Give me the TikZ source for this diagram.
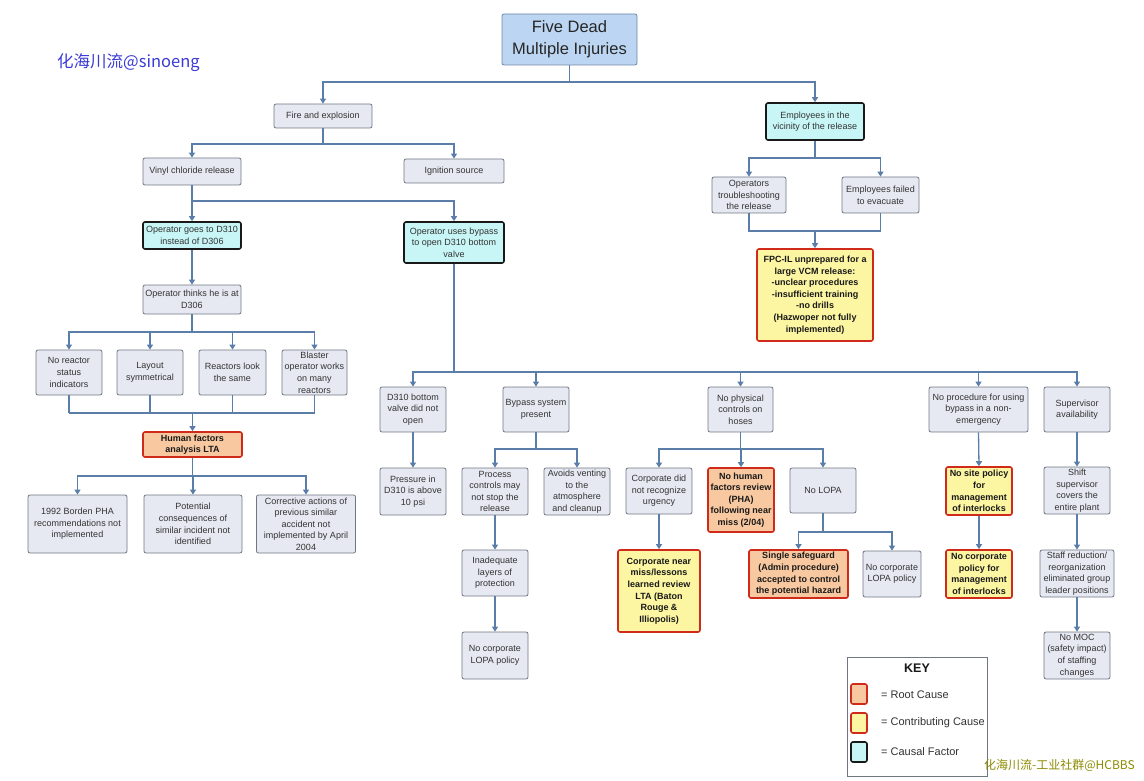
\documentclass[tikz,border=0pt]{standalone}
\usepackage{fontspec}
\setmainfont{Liberation Sans}
\newfontfamily\cjk{Noto Sans CJK SC}
\usetikzlibrary{arrows.meta}
\definecolor{procfill}{HTML}{E6E9F2}
\definecolor{procline}{HTML}{707682}
\definecolor{topfill}{HTML}{BCD5F2}
\definecolor{topline}{HTML}{6F88A8}
\definecolor{causalfill}{HTML}{C8F5F5}
\definecolor{rootfill}{HTML}{F8C8A0}
\definecolor{contribfill}{HTML}{FCF6A2}
\definecolor{redline}{HTML}{D02A1A}
\definecolor{conn}{HTML}{5B7EA8}
\definecolor{txt}{HTML}{333333}
\definecolor{wmblue}{HTML}{3A3AD6}
\definecolor{wmolive}{HTML}{8C8A00}
\begin{document}
\begin{tikzpicture}[x=1pt,y=-1pt,
  wh/.style 2 args={minimum width=#1pt, minimum height=#2pt},
  box/.style={draw=procline, fill=procfill, rounded corners=2pt, line width=0.8pt,
    align=center, inner sep=0.5pt, font=\fontsize{9}{11.6}\selectfont, text=txt},
  topbox/.style={box, draw=topline, fill=topfill, font=\fontsize{16.5}{22}\selectfont, text=black!85},
  causal/.style={box, draw=black!90, fill=causalfill, line width=1.6pt},
  root/.style={box, draw=redline, fill=rootfill, line width=1.6pt,
    font=\bfseries\fontsize{9}{11.6}\selectfont, text=black!90},
  contrib/.style={root, fill=contribfill},
  ln/.style={draw=conn, line width=1.3pt},
  arr/.style={ln, -{Triangle[length=5pt,width=6pt]}},
  keytxt/.style={anchor=west, font=\fontsize{11}{13}\selectfont, text=txt, inner sep=0pt}
]
\useasboundingbox (0,0) rectangle (1144,781);

% ---- nodes ----
\node[topbox, wh={135}{51}] (top) at (569.5,39.5) {Five Dead\\Multiple Injuries};
\node[box, wh={98}{24}] (fire) at (323,116) {Fire and explosion};
\node[causal, wh={98}{37}] (emp) at (815,121.5) {Employees in the\\vicinity of the release};
\node[box, wh={98}{27}] (vinyl) at (192,171.5) {Vinyl chloride release};
\node[box, wh={100}{24}] (ign) at (454,171) {Ignition source};
\node[causal, wh={98}{27}] (opgo) at (192,235.5) {Operator goes to D310\\instead of D306};
\node[causal, wh={100}{41}] (opbyp) at (454,242.5) {Operator uses bypass\\to open D310 bottom\\valve};
\node[box, wh={74}{36}] (optr) at (749,195) {Operators\\troubleshooting\\the release};
\node[box, wh={77}{36}] (empf) at (880.5,195) {Employees failed\\to evacuate};
\node[contrib, wh={116}{92}] (fpc) at (815,295) {FPC-IL unprepared for a\\large VCM release:\\-unclear procedures\\-insufficient training\\-no drills\\(Hazwoper not fully\\implemented)};
\node[box, wh={98}{29}] (opth) at (192,299.5) {Operator thinks he is at\\D306};
\node[box, wh={66}{45}] (nr) at (69,372.5) {No reactor\\status\\indicators};
\node[box, wh={66}{45}] (lay) at (150,372.5) {Layout\\symmetrical};
\node[box, wh={67}{45}] (rl) at (232.5,372.5) {Reactors look\\the same};
\node[box, wh={65}{45}] (bl) at (314.5,372.5) {Blaster\\operator works\\on many\\reactors};
\node[root, wh={99}{25}] (hf) at (192.5,444.5) {Human factors\\analysis LTA};
\node[box, wh={99}{58}] (b92) at (77.5,524) {1992 Borden PHA\\recommendations not\\implemented};
\node[box, wh={98}{58}] (pot) at (193,524) {Potential\\consequences of\\similar incident not\\identified};
\node[box, wh={99}{58}] (corr) at (306,524) {Corrective actions of\\previous similar\\accident not\\implemented by April\\2004};
\node[box, wh={66}{45}] (d310) at (413,409.5) {D310 bottom\\valve did not\\open};
\node[box, wh={66}{45}] (byp) at (536,409.5) {Bypass system\\present};
\node[box, wh={65}{45}] (nph) at (740.5,409.5) {No physical\\controls on\\hoses};
\node[box, wh={99}{45}] (nproc) at (978.5,409.5) {No procedure for using\\bypass in a non-\\emergency};
\node[box, wh={66}{45}] (sup) at (1077,409.5) {Supervisor\\availability};
\node[box, wh={66}{47}] (pres) at (413,491.5) {Pressure in\\D310 is above\\10 psi};
\node[box, wh={66}{47}] (pc) at (495,491.5) {Process\\controls may\\not stop the\\release};
\node[box, wh={66}{47}] (av) at (577,491.5) {Avoids venting\\to the\\atmosphere\\and cleanup};
\node[box, wh={66}{46}] (inad) at (495,573) {Inadequate\\layers of\\protection};
\node[box, wh={66}{47}] (nlopaA) at (495,655.5) {No corporate\\LOPA policy};
\node[box, wh={66}{46}] (cdn) at (659,491) {Corporate did\\not recognize\\urgency};
\node[root, wh={66}{64}] (nhf) at (741,500) {No human\\factors review\\(PHA)\\following near\\miss (2/04)};
\node[box, wh={66}{45}] (nlopa) at (823,490.5) {No LOPA};
\node[contrib, wh={82}{82}] (cnm) at (659,591) {Corporate near\\miss/lessons\\learned review\\LTA (Baton\\Rouge \&\\Illiopolis)};
\node[root, wh={99}{48}] (ss) at (798.5,574) {Single safeguard\\(Admin procedure)\\accepted to control\\the potential hazard};
\node[box, wh={58}{46}] (nlopaB) at (892,574) {No corporate\\LOPA policy};
\node[contrib, wh={66}{48}] (nsite) at (979,491) {No site policy\\for\\management\\of interlocks};
\node[contrib, wh={66}{48}] (ncorp) at (979,574) {No corporate\\policy for\\management\\of interlocks};
\node[box, wh={66}{47}] (shift) at (1077,490.5) {Shift\\supervisor\\covers the\\entire plant};
\node[box, wh={74}{47}] (staff) at (1077,573.5) {Staff reduction/\\reorganization\\eliminated group\\leader positions};
\node[box, wh={66}{47}] (nmoc) at (1077,655.5) {No MOC\\(safety impact)\\of staffing\\changes};

% ---- bus coordinates ----
\coordinate (yA) at (0,82);
\coordinate (yB) at (0,144);
\coordinate (yC) at (0,201);
\coordinate (yD) at (0,158);
\coordinate (yE) at (0,231);
\coordinate (yF) at (0,332);
\coordinate (yG) at (0,413);
\coordinate (yH) at (0,476);
\coordinate (yI) at (0,372);
\coordinate (yJ) at (0,449);
\coordinate (yK) at (0,532);

% ---- connectors ----
\foreach \c in {fire,emp}{\draw[arr] (top.south) -- (top.south |- yA) -| (\c.north);}
\foreach \c in {vinyl,ign}{\draw[arr] (fire.south) -- (fire.south |- yB) -| (\c.north);}
\foreach \c in {opgo,opbyp}{\draw[arr] (vinyl.south) -- (vinyl.south |- yC) -| (\c.north);}
\foreach \c in {optr,empf}{\draw[arr] (emp.south) -- (emp.south |- yD) -| (\c.north);}
\draw[ln] (optr.south) |- (empf.south |- yE) -- (empf.south);
\draw[arr] (fpc.north |- yE) -- (fpc.north);
\draw[arr] (opgo) -- (opth);
\foreach \c in {nr,lay,rl,bl}{\draw[arr] (opth.south) -- (opth.south |- yF) -| (\c.north);}
\foreach \c in {nr,lay,rl,bl}{\draw[ln] (\c.south) -- (\c.south |- yG);}
\draw[ln] (nr.south |- yG) -- (bl.south |- yG);
\draw[arr] (hf.north |- yG) -- (hf.north);
\foreach \c in {b92,pot,corr}{\draw[arr] (hf.south) -- (hf.south |- yH) -| (\c.north);}
\foreach \c in {d310,byp,nph,nproc,sup}{\draw[arr] (opbyp.south) -- (opbyp.south |- yI) -| (\c.north);}
\draw[arr] (d310) -- (pres);
\foreach \c in {pc,av}{\draw[arr] (byp.south) -- (byp.south |- yJ) -| (\c.north);}
\draw[arr] (pc) -- (inad);
\draw[arr] (inad) -- (nlopaA);
\foreach \c in {cdn,nhf,nlopa}{\draw[arr] (nph.south) -- (nph.south |- yJ) -| (\c.north);}
\draw[arr] (cdn) -- (cnm);
\foreach \c in {ss,nlopaB}{\draw[arr] (nlopa.south) -- (nlopa.south |- yK) -| (\c.north);}
\draw[arr] (nproc.south) -- (nsite.north);
\draw[arr] (nsite) -- (ncorp);
\draw[arr] (sup) -- (shift);
\draw[arr] (shift) -- (staff);
\draw[arr] (staff) -- (nmoc);

% ---- key ----
\node[draw=procline, fill=white, line width=0.8pt, minimum width=140pt, minimum height=119pt] (key) at (917,716.5) {};
\node[font=\bfseries\fontsize{12.5}{14}\selectfont, text=black!90] (keyt) at (917,668) {KEY};
\node[root, wh={16}{20}] (kr) at (859,694) {};
\node[contrib, wh={16}{20}] (kc) at (859,723) {};
\node[causal, wh={16}{20}] (kf) at (859,752) {};
\node[keytxt] (krt) at (881,695) {= Root Cause};
\node[keytxt] (kct) at (881,723) {= Contributing Cause};
\node[keytxt] (kft) at (881,752) {= Causal Factor};

% ---- watermarks ----
\node[anchor=west, inner sep=0pt, text=wmblue, font=\cjk\fontsize{16.5}{18}\selectfont] (wm1) at (57,63) {化海川流@sinoeng};
\node[anchor=east, inner sep=0pt, text=wmolive, font=\cjk\fontsize{12}{14}\selectfont] (wm2) at (1135,765) {化海川流-工业社群@HCBBS};
\end{tikzpicture}
\end{document}
